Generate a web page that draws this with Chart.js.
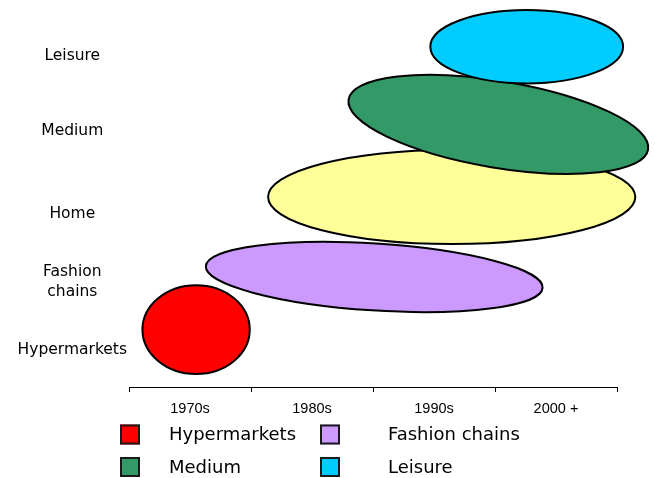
<!DOCTYPE html>
<html><head><meta charset="utf-8">
<script src="https://cdn.jsdelivr.net/npm/chart.js@4.4.1/dist/chart.umd.min.js"></script>
<style>html,body{margin:0;padding:0;background:#fff}</style>
</head><body>
<canvas id="c" width="655" height="478"></canvas>
<script>
// ---- data ----
const periods = ['1970s', '1980s', '1990s', '2000 +'];
const segments = ['Hypermarkets', 'Fashion chains', 'Home', 'Medium', 'Leisure'];
const segmentTickLabels = ['Hypermarkets', ['Fashion', 'chains'], 'Home', 'Medium', 'Leisure'];
const segmentTickLevels = [9.7, 27.7, 45.5, 67.4, 87.2];
// life-span of each format: from (start year, level) to (end year, level), half thickness in level units
const startYears  = [1971.1, 1976.3, 1981.4, 1988.0, 1994.7];
const endYears    = [1979.9, 2003.9, 2011.5, 2012.55, 2010.5];
const startLevels = [15.1, 31.8, 50.0, 75.7, 89.55];
const endLevels   = [15.1, 26.1, 50.0, 62.5, 89.55];
const spreads     = [11.7, 8.8, 12.4, 11.4, 9.66];
const colors      = ['#FF0000', '#CC99FF', '#FFFF99', '#339966', '#00CCFF'];
const legendItems = ['Hypermarkets', 'Fashion chains', 'Medium', 'Leisure'];

const yearToCat = yr => (yr - 1970) / 10 - 0.5;

const datasets = segments.map((s, i) => ({
  label: s,
  data: [{x: yearToCat(startYears[i]), y: startLevels[i]}, {x: yearToCat(endYears[i]), y: endLevels[i]}],
  spread: spreads[i],
  backgroundColor: colors[i],
  borderColor: '#000',
  pointRadius: 0,
  pointHoverRadius: 0,
  showLine: false
}));

const ellipsePlugin = {
  id: 'ellipses',
  afterDatasetsDraw(chart) {
    const {ctx, scales: {x, y}} = chart;
    chart.data.datasets.forEach(ds => {
      const p = ds.data[0], q = ds.data[1];
      const x1 = x.getPixelForValue(p.x), y1 = y.getPixelForValue(p.y);
      const x2 = x.getPixelForValue(q.x), y2 = y.getPixelForValue(q.y);
      const cx = (x1 + x2) / 2, cy = (y1 + y2) / 2;
      const a = Math.hypot(x2 - x1, y2 - y1) / 2;
      const b = Math.abs(y.getPixelForValue(0) - y.getPixelForValue(ds.spread));
      const rot = Math.atan2(y2 - y1, x2 - x1);
      ctx.save();
      ctx.beginPath();
      ctx.ellipse(cx, cy, a, b, rot, 0, Math.PI * 2);
      ctx.fillStyle = ds.backgroundColor;
      ctx.fill();
      ctx.lineWidth = 2;
      ctx.strokeStyle = '#000';
      ctx.stroke();
      ctx.restore();
    });
  }
};

const legendPlugin = {
  id: 'customLegend',
  afterDraw(chart) {
    const ctx = chart.ctx;
    const boxX = [120, 320], textX = [169, 388], rowY = [434.5, 467];
    ctx.save();
    legendItems.forEach((name, k) => {
      const i = segments.indexOf(name);
      const col = k % 2, row = Math.floor(k / 2);
      const bx = boxX[col], by = rowY[row] - 10;
      ctx.fillStyle = colors[i];
      ctx.fillRect(bx, by, 20, 20);
      ctx.lineWidth = 2;
      ctx.strokeStyle = '#1a1a1a';
      ctx.strokeRect(bx + 1, by + 1, 18, 18);
      ctx.fillStyle = '#000';
      ctx.font = '18px "DejaVu Sans"';
      ctx.textBaseline = 'middle';
      ctx.textAlign = 'left';
      ctx.fillText(name, textX[col], rowY[row] + 1);
    });
    ctx.restore();
  }
};

new Chart(document.getElementById('c'), {
  type: 'scatter',
  data: {labels: periods, datasets},
  plugins: [ellipsePlugin, legendPlugin],
  options: {
    responsive: false,
    animation: false,
    events: [],
    layout: {padding: {left: 0, right: 38, top: 7, bottom: 61}},
    plugins: {legend: {display: false}, tooltip: {enabled: false}},
    scales: {
      x: {
        type: 'category',
        labels: periods,
        offset: true,
        grid: {display: true, offset: true, drawOnChartArea: false, drawTicks: true, tickLength: 5, color: '#000', lineWidth: 1},
        border: {display: true, color: '#000', width: 1},
        ticks: {color: '#000', padding: 8, font: {family: '"Liberation Sans", Arial, sans-serif', size: 14.5}, maxRotation: 0, autoSkip: false},
        afterFit: s => { s.height = 30; }
      },
      y: {
        type: 'linear',
        min: 0, max: 100,
        grid: {display: false},
        border: {display: false},
        afterBuildTicks: s => { s.ticks = segmentTickLevels.map(v => ({value: v})); },
        ticks: {
          color: '#000', padding: -6, crossAlign: 'center',
          font: {family: '"DejaVu Sans", sans-serif', size: 15.5, lineHeight: 1.3},
          callback: (v) => { const i = segmentTickLevels.indexOf(v); return i >= 0 ? segmentTickLabels[i] : ''; }
        },
        afterFit: s => { s.width = 129; }
      }
    }
  }
});
</script>
</body></html>
